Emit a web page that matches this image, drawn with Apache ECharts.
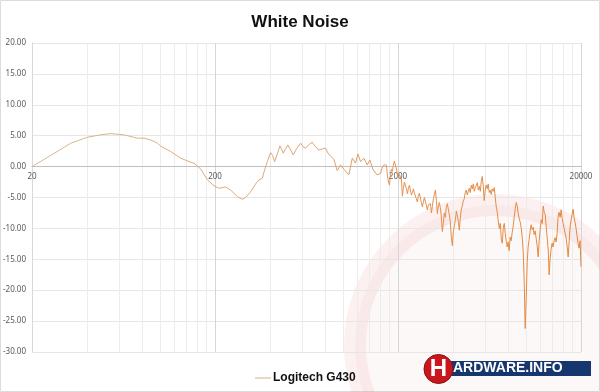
<!DOCTYPE html>
<html><head><meta charset="utf-8">
<script src="https://cdn.jsdelivr.net/npm/echarts@6/dist/echarts.min.js"></script>
<style>html,body{margin:0;padding:0;background:#fff}#c{width:600px;height:392px}</style>
</head><body><div id="c"></div>
<script>
const chartTitle = 'White Noise';
const seriesName = 'Logitech G430';
const xLabelValues = [20, 200, 2000, 20000];
const xGridValues = [20,40,60,80,100,120,140,160,180,200,400,600,800,1000,1200,1400,1600,1800,2000,4000,6000,8000,10000,12000,14000,16000,18000,20000];
const yMin = -30, yMax = 20, yStep = 5;

const freq = [
20,26.5,32.6,40.3,47.6,53.9,63.8,75.4,82,89.2,97,101.1,114.6,130,144.2,153.6,167.2,182,197.6,210.3,228.6,243.6,265,282,294,313.4,333.5,347.7,363,373.5,386.5,402.7,413,423.7,439.6,453,472,486,500,517.5,535.5,558.5,587.5,605.5,625,648.7,679.6,708,738,771,803.6,828,855,891.6,931,970,1012,1033,1077,1125,1172,1208,1248,1302,1357,1403,1463,1538,1575,
1604,1624,1645,1666,1687,1708,1730,1752,1774,1797,1820,1841,1863,1886,1910,1934,1959,1984,2009,2035,
2061,2087,2113,2140,2168,2195,2223,2251,2280,2309,2338,2368,2398,2429,2460,2489,2518,2550,2583,2616,
2649,2683,2717,2752,2787,2822,2858,2894,2931,2969,3007,3045,3083,3122,3162,3202,3243,3281,3320,3362,
3405,3448,3492,3537,3582,3627,3673,3720,3767,3815,3864,3913,3963,4013,4064,4116,4168,4222,4276,4326,
4376,4432,4488,4545,4603,4662,4721,4781,4842,4904,4966,5029,5093,5158,5224,5291,5358,5426,5495,5565,
5636,5702,5768,5842,5916,5991,6067,6145,6223,6303,6383,6464,6546,6630,6714,6800,6886,6974,7063,7153,
7244,7337,7430,7525,7620,7710,7800,7900,8000,8102,8205,8310,8416,8523,8631,8741,8853,8966,9080,9196,
9313,9432,9552,9674,9796,9908,10047,10163,10281,10412,10544,10678,10814,10952,11092,11233,11376,11521,11668,11817,
11967,12120,12274,12431,12589,12750,12912,13077,13243,13397,13552,13725,13900,14077,14256,14438,14622,14808,14997,15188,
15382,15578,15776,15977,16181,16387,16596,16808,17022,17239,17458,17681,17906,18114,18323,18557,18793,19032,19275,19521,
19770,20000
];
const level = [
0,2.17,3.79,4.76,5.15,5.34,5.13,4.6,4.6,4.3,3.79,3.3,2.43,1.36,0.81,0.55,-0.4,-2.15,-3.1,-3.5,-3.3,-3.8,-4.85,-5.28,-5,-4.05,-2.8,-2.15,-1.88,-0.5,0.81,2.27,1.8,0.81,2.2,3.35,2.17,2.9,3.51,2.7,1.89,2.9,3.79,3.2,2.98,3.5,3.95,3.2,2.7,2.85,2.98,2.2,1.7,1.2,-0.65,0.28,-0.42,-0.26,-1.34,1.36,0.55,2.05,0.81,1.36,0.28,1.08,-0.53,-1.34,-1.6,
-1.1,-0.6,0,-0.3,0.3,0.6,0.2,-1.5,-2.5,-3,-1.2,-0.4,-0.8,0.2,0.9,0.7,-0.3,-1.2,-1.8,-1.3,
-1,-2,-4.8,-3.5,-2.5,-2.8,-3.6,-4.4,-3.5,-3,-3.8,-4.6,-4.2,-3.6,-4.3,-4,-5.2,-5.7,-4.8,-4.3,
-4.6,-5.8,-6.5,-5.7,-5,-5.3,-6.3,-7,-6.2,-5.9,-6,-7.5,-6.4,-5.2,-4.5,-3.8,-5.5,-7.6,-6.5,-5.8,
-6.6,-8,-10.5,-9.2,-7.5,-8.2,-6.6,-6,-6.3,-7.8,-9,-11.5,-12.8,-10.5,-9.6,-8.6,-7.2,-8,-9,-10.3,
-8.4,-7,-6.4,-5.6,-5.2,-4.2,-3.8,-4.6,-4,-3.5,-4.2,-3,-3.6,-2.8,-4,-3.4,-3,-2.6,-3.8,-3.2,
-4,-2.4,-1.6,-3,-5.5,-3.8,-3,-3.6,-2.8,-4.2,-3.8,-4.5,-3.6,-4,-3.4,-5,-6.5,-7.4,-8.8,-10,
-9.2,-11.8,-12.4,-9.8,-9.2,-10.8,-12,-13,-12.2,-13.6,-11.4,-12,-10.6,-9.6,-8.2,-6.8,-5.8,-6.4,-7.6,-8.4,
-9,-10,-11.5,-14,-19,-26.2,-21,-15.5,-13,-11.8,-10.5,-9.4,-10.2,-9.8,-11,-10.4,-11.6,-12.8,-14.6,-12,
-10.2,-8.6,-9.2,-6.4,-7.4,-7.8,-9.8,-11.6,-13.5,-17.5,-15,-13.4,-12.4,-13,-12,-11.5,-12.2,-10.8,-8,-7.4,
-8.2,-7,-8.4,-9.2,-10,-10.8,-11.6,-13,-14.6,-12,-9.6,-8.6,-7.6,-6.9,-8.2,-9,-10,-11.2,-12.4,-13.2,
-12,-16.2
];

const data = freq.map((f, i) => [f, level[i]]);
const splitColors = ['#d6d6d6','#ececec','#ececec','#ececec','#ececec','#ececec','#ececec','#ececec','#ececec'];
const sans = '"Liberation Sans",Arial,sans-serif';

const gridTop = 43, gridBottom = 40, chartH = 392;
const plotH = chartH - gridTop - gridBottom;
const zeroOffset = -plotH * (0 - yMin) / (yMax - yMin);

const chart = echarts.init(document.getElementById('c'), null, {renderer: 'canvas'});
chart.setOption({
  animation: false,
  backgroundColor: '#fff',
  title: {
    text: chartTitle, left: 'center', top: 14, padding: 0,
    textStyle: {fontFamily: sans, fontWeight: 'bold', fontSize: 17, color: '#111'}
  },
  legend: {
    data: [seriesName], left: 250, top: 367, icon: 'rect', itemWidth: 16, itemHeight: 1, itemGap: 10,
    itemStyle: {color: '#d4b08c'},
    textStyle: {fontFamily: sans, fontWeight: 'bold', fontSize: 12, color: '#111', padding: [0,0,0,-3]}
  },
  grid: {left: 31, right: 19, top: gridTop, bottom: gridBottom, containLabel: false},
  xAxis: {
    type: 'log', logBase: 10, min: 20, max: 20000,
    offset: zeroOffset,
    axisLine: {onZero: false, lineStyle: {color: '#bfbfbf', width: 1}},
    axisTick: {show: false, customValues: xGridValues},
    axisLabel: {customValues: xLabelValues, fontSize: 8, color: '#595959', margin: 6, fontFamily: 'Noto Sans',
      formatter: v => String(Math.round(v)), showMinLabel: true, showMaxLabel: true, hideOverlap: false},
    splitLine: {show: true, lineStyle: {color: splitColors, width: 1}},
    minorSplitLine: {show: false}
  },
  yAxis: {
    type: 'value', min: yMin, max: yMax, interval: yStep,
    axisLine: {show: true, lineStyle: {color: '#d9d9d9'}},
    axisTick: {show: false},
    axisLabel: {fontSize: 8, color: '#595959', margin: 6, fontFamily: 'Noto Sans', formatter: v => v.toFixed(2)},
    splitLine: {lineStyle: {color: '#e6e6e6'}}
  },
  graphic: [
    {type: 'rect', silent: true, z: -10, shape: {x: 0.5, y: 0.5, width: 599, height: 391}, style: {fill: 'none', stroke: '#dcdcdc', lineWidth: 1}},
    {type: 'circle', silent: true, z: -5, shape: {cx: 495, cy: 345, r: 140}, style: {fill: 'rgba(215,70,70,0.04)', stroke: 'rgba(215,70,70,0.08)', lineWidth: 22}},
    {type: 'circle', silent: true, z: 20, shape: {cx: 438.5, cy: 369, r: 14.5}, style: {fill: '#c8181e', stroke: '#8a0f12', lineWidth: 1}},
    {type: 'rect', silent: true, z: 19, shape: {x: 447, y: 361, width: 144, height: 15}, style: {fill: '#16366f'}},
    {type: 'text', silent: true, z: 21, style: {text: 'H', x: 438.5, y: 369, fill: '#fff', font: 'bold 24px ' + sans, textAlign: 'center', textVerticalAlign: 'middle'}},
    {type: 'text', silent: true, z: 21, style: {text: 'ARDWARE.INFO', x: 453, y: 368.5, fill: '#fff', font: 'bold 14px ' + sans, textAlign: 'left', textVerticalAlign: 'middle'}}
  ],
  series: [{
    name: seriesName, type: 'line', data: data, symbol: 'none', smooth: false,
    color: '#d4b08c',
    lineStyle: {width: 1, color: {type: 'linear', x: 0, y: 0, x2: 1, y2: 0, colorStops: [
      {offset: 0, color: '#d8b896'}, {offset: 0.55, color: '#dca372'}, {offset: 0.7, color: '#e39050'}, {offset: 1, color: '#e6873a'}]}}
  }]
});
</script></body></html>
